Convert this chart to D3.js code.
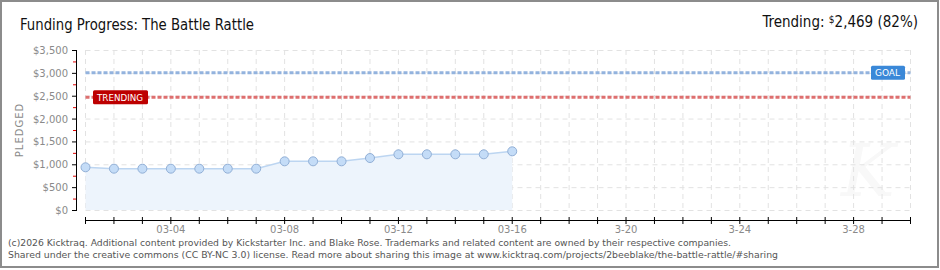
<!DOCTYPE html>
<html>
<head>
<meta charset="utf-8">
<script src="https://cdn.jsdelivr.net/npm/d3@7"></script>
<style>
	body { margin: 0; background: #fff; }
	svg { display: block; }
	.grid line { stroke: #e2e2e2; stroke-dasharray: 5,4; }
	.ylab, .xlab { font-family: 'DejaVu Sans', sans-serif; font-size: 10px; fill: #8a8a8a; }
	.foot { font-family: 'DejaVu Sans', sans-serif; font-size: 9px; fill: #555; }
</style>
</head>
<body>
<svg id="chart" width="940" height="270"></svg>
<script>

//------------------------------------------------------------------------------
// Data

var days    = ['2026-03-01', '2026-03-02', '2026-03-03', '2026-03-04', '2026-03-05', '2026-03-06',
               '2026-03-07', '2026-03-08', '2026-03-09', '2026-03-10', '2026-03-11', '2026-03-12',
               '2026-03-13', '2026-03-14', '2026-03-15', '2026-03-16'];
var pledged = [934, 904, 904, 904, 904, 904, 904, 1065, 1065, 1065, 1137, 1218, 1218, 1218, 1218, 1284];

var xDomain    = ['2026-03-01', '2026-03-30'];
var xLabelDays = ['2026-03-04', '2026-03-08', '2026-03-12', '2026-03-16', '2026-03-20', '2026-03-24', '2026-03-28'];
var xLabels    = ['03-04', '03-08', '03-12', '03-16', '3-20', '3-24', '3-28'];
var yTicks     = [0, 500, 1000, 1500, 2000, 2500, 3000, 3500];

var goal     = 3000;
var trending = 2469;

var title    = 'Funding Progress: The Battle Rattle';
var footer   = [
	'(c)2026 Kicktraq. Additional content provided by Kickstarter Inc. and Blake Rose. Trademarks and related content are owned by their respective companies.',
	'Shared under the creative commons (CC BY-NC 3.0) license. Read more about sharing this image at www.kicktraq.com/projects/2beeblake/the-battle-rattle/#sharing'
];
var footerWidths = [723, 770];

//------------------------------------------------------------------------------
// Scales

var parse = d3.utcParse('%Y-%m-%d');
var svg = d3.select('#chart');

var x = d3.scaleUtc().domain(xDomain.map(parse)).range([85.5, 910.5]);
var y = d3.scaleLinear().domain([0, 3500]).range([210, 50]);

var allDays = d3.utcDay.range(parse(xDomain[0]), d3.utcDay.offset(parse(xDomain[1]), 1));
var points = days.map(function (d, i) { return { date: parse(d), value: pledged[i] }; });

// frame
svg.append('rect')
	.attr('x', 1).attr('y', 1).attr('width', 937).attr('height', 266)
	.attr('fill', '#fff').attr('stroke', '#8c8c8c').attr('stroke-width', 2);

// watermark
svg.append('text')
	.attr('x', 868).attr('y', 196)
	.attr('text-anchor', 'middle')
	.attr('font-family', 'DejaVu Serif, serif').attr('font-style', 'italic')
	.attr('font-size', 72).attr('fill', '#f8f8f8')
	.text('K');

//------------------------------------------------------------------------------
// Grid

var grid = svg.append('g').attr('class', 'grid');
grid.selectAll('.h').data(yTicks).enter().append('line')
	.attr('x1', x.range()[0]).attr('x2', x.range()[1])
	.attr('y1', function (d) { return y(d) + 0.5; })
	.attr('y2', function (d) { return y(d) + 0.5; });
grid.selectAll('.v').data(allDays).enter().append('line')
	.attr('x1', function (d) { return x(d); }).attr('x2', function (d) { return x(d); })
	.attr('y1', y(3500)).attr('y2', y(0));

//------------------------------------------------------------------------------
// Series

svg.append('path')
	.datum(points)
	.attr('fill', '#edf4fc')
	.attr('d', d3.area()
		.x(function (d) { return x(d.date); })
		.y0(y(0))
		.y1(function (d) { return y(d.value); }));

svg.append('path')
	.datum(points)
	.attr('fill', 'none')
	.attr('stroke', '#bcd5f1')
	.attr('stroke-width', 1.5)
	.attr('d', d3.line()
		.x(function (d) { return x(d.date); })
		.y(function (d) { return y(d.value); }));

// goal / trending lines
function refLine(value, color)
{
	svg.append('line')
		.attr('x1', x.range()[0]).attr('x2', x.range()[1])
		.attr('y1', y(value)).attr('y2', y(value))
		.attr('stroke', color).attr('stroke-width', 3)
		.attr('stroke-dasharray', '4,2');
}
refLine(goal, '#93b3de');
refLine(trending, '#de6f6f');

svg.selectAll('.pt').data(points).enter().append('circle')
	.attr('cx', function (d) { return x(d.date); })
	.attr('cy', function (d) { return y(d.value); })
	.attr('r', 4.5)
	.attr('fill', '#c4dcf7')
	.attr('stroke', '#91afd6')
	.attr('stroke-width', 1);

// badges
function badge(bx, by, w, label, color)
{
	svg.append('rect')
		.attr('x', bx).attr('y', by).attr('width', w).attr('height', 14)
		.attr('rx', 1.5).attr('fill', color);
	svg.append('text')
		.attr('x', bx + 4).attr('y', by + 10.5)
		.attr('font-family', 'DejaVu Sans, sans-serif').attr('font-size', 9)
		.attr('textLength', w - 9).attr('lengthAdjust', 'spacingAndGlyphs')
		.attr('fill', '#fff')
		.text(label);
}
badge(93, y(trending) - 7, 55, 'TRENDING', '#bd0000');
badge(871, y(goal) - 7, 34, 'GOAL', '#3a88d8');

//------------------------------------------------------------------------------
// Axes

var yAxis = svg.append('g');
yAxis.append('line')
	.attr('x1', 76.5).attr('x2', 76.5).attr('y1', y(3500)).attr('y2', y(0) + 0.5)
	.attr('stroke', '#000');
yAxis.selectAll('.maj').data(yTicks).enter().append('line')
	.attr('x1', 72).attr('x2', 77)
	.attr('y1', function (d) { return y(d) + 0.5; }).attr('y2', function (d) { return y(d) + 0.5; })
	.attr('stroke', '#000');
yAxis.selectAll('.min').data(yTicks.slice(1)).enter().append('line')
	.attr('x1', 73).attr('x2', 76)
	.attr('y1', function (d) { return y(d - 250) + 0.5; }).attr('y2', function (d) { return y(d - 250) + 0.5; })
	.attr('stroke', '#e00000');
yAxis.selectAll('.ylab').data(yTicks).enter().append('text')
	.attr('class', 'ylab')
	.attr('x', 68).attr('y', function (d) { return y(d) + 4; })
	.attr('text-anchor', 'end')
	.text(function (d) { return '$' + d3.format(',')(d); });

svg.append('text')
	.attr('class', 'ylab')
	.attr('transform', 'translate(23,' + y(1750) + ') rotate(-90)')
	.attr('text-anchor', 'middle')
	.attr('letter-spacing', 1)
	.text('PLEDGED');

var xAxis = svg.append('g');
xAxis.append('line')
	.attr('x1', x.range()[0]).attr('x2', x.range()[1]).attr('y1', 220.5).attr('y2', 220.5)
	.attr('stroke', '#000');
xAxis.selectAll('.tk').data(allDays).enter().append('line')
	.attr('x1', function (d) { return x(d); }).attr('x2', function (d) { return x(d); })
	.attr('y1', 217).attr('y2', 224)
	.attr('stroke', '#000');
xAxis.selectAll('.xlab').data(xLabelDays).enter().append('text')
	.attr('class', 'xlab')
	.attr('x', function (d) { return x(parse(d)); }).attr('y', 233)
	.attr('text-anchor', 'middle')
	.text(function (d, i) { return xLabels[i]; });

//------------------------------------------------------------------------------
// Titles & footer

svg.append('text')
	.attr('x', 20).attr('y', 30)
	.attr('font-family', 'DejaVu Sans Condensed, DejaVu Sans, sans-serif').attr('font-size', 15)
	.attr('textLength', 234).attr('lengthAdjust', 'spacingAndGlyphs')
	.attr('fill', '#111')
	.text(title);

var tr = svg.append('text')
	.attr('x', 918).attr('y', 27)
	.attr('text-anchor', 'end')
	.attr('font-family', 'DejaVu Sans Condensed, DejaVu Sans, sans-serif').attr('font-size', 15)
	.attr('fill', '#111');
tr.append('tspan').text('Trending:  ');
tr.append('tspan').attr('font-size', 10).attr('dy', -4).text('$');
tr.append('tspan').attr('dy', 4).text(d3.format(',')(trending) + ' (' + Math.round(trending / goal * 100) + '%)');

svg.selectAll('.foot').data(footer).enter().append('text')
	.attr('class', 'foot')
	.attr('x', 8).attr('y', function (d, i) { return 246 + i * 12; })
	.attr('textLength', function (d, i) { return footerWidths[i]; })
	.attr('lengthAdjust', 'spacingAndGlyphs')
	.text(function (d) { return d; });

</script>
</body>
</html>
